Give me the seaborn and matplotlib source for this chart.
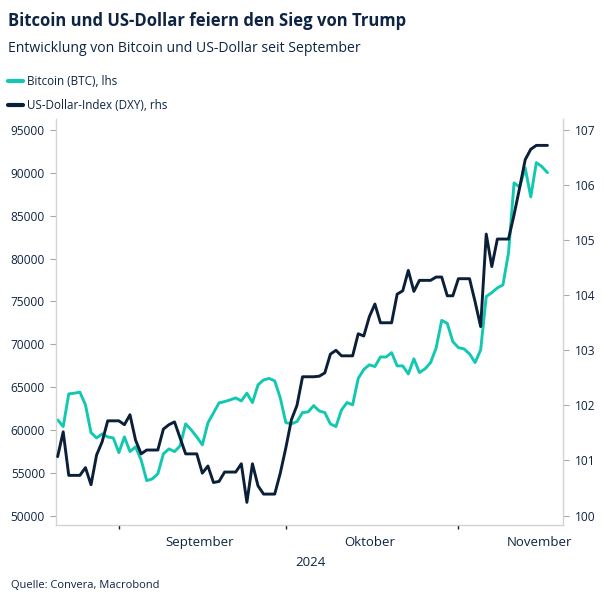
import matplotlib
matplotlib.use("Agg")
import matplotlib.pyplot as plt
import seaborn as sns
import pandas as pd
from matplotlib.lines import Line2D

# ---------------- data ----------------
start_date = "2024-08-21"
end_date = "2024-11-17"

btc = [61170, 60390, 64200, 64280, 64400, 62920, 59680, 59060, 59530, 59180, 59060,
       57350, 59180, 57470, 58020, 56500, 54080, 54280, 54870, 57200, 57780,
       57470, 58130, 60700, 60000, 59180, 58250, 60820, 61980, 63150, 63300,
       63500, 63730, 63380, 64280, 63190, 65250, 65830, 66000, 65720, 63730,
       60850, 60700, 60970, 62020, 62100, 62830, 62210, 62020, 60700, 60390,
       62330, 63190, 62920, 66000, 67050, 67590, 67390, 68520, 68500, 69010,
       67470, 67470, 66530, 68290, 66690, 67120, 67850, 69560, 72780, 72430,
       70300,
       69600, 69450, 68870, 67860, 69340, 75560, 76020, 76570, 76920, 80650,
       88820, 88350, 90570, 87190, 91190, 90720, 90020]

dxy = [101.07, 101.52, 100.73, 100.73, 100.73, 100.87, 100.56, 101.10, 101.34, 101.72, 101.72,
       101.72, 101.65, 101.83, 101.37, 101.12, 101.19, 101.19, 101.19, 101.57, 101.65,
       101.70, 101.41, 101.12, 101.12, 101.12, 100.77, 100.90, 100.60, 100.62, 100.79,
       100.79, 100.79, 100.94, 100.24, 100.94, 100.54, 100.39, 100.39, 100.39, 100.77,
       101.23, 101.74, 102.00, 102.52, 102.52, 102.52, 102.53, 102.59, 102.93, 103.00,
       102.90, 102.90, 102.90, 103.30, 103.26, 103.61, 103.84, 103.50, 103.50, 103.50,
       104.02, 104.08, 104.45, 104.07, 104.27, 104.27, 104.27, 104.33, 104.33, 103.99,
       103.99,
       104.30, 104.30, 104.30, 103.88, 103.43, 105.11, 104.52, 105.02, 105.02, 105.02,
       105.46, 105.95, 106.46, 106.65, 106.72, 106.72, 106.72]

left_ticks = [50000, 55000, 60000, 65000, 70000, 75000, 80000, 85000, 90000, 95000]
left_labels = ["50000", "55000", "60000", "65000", "70000", "75000", "80000", "85000", "90000", "95000"]
right_ticks = [100, 101, 102, 103, 104, 105, 106, 107]
right_labels = ["100", "101", "102", "103", "104", "105", "106", "107"]
month_starts = ["2024-09-01 00:00", "2024-10-01 00:00", "2024-11-01 00:00"]
month_mids = ["2024-09-15 12:00", "2024-10-16 00:00", "2024-11-15 12:00"]
month_labels = ["September", "Oktober", "November"]
series_labels = ["Bitcoin (BTC), lhs", "US-Dollar-Index (DXY), rhs"]

title = "Bitcoin und US-Dollar feiern den Sieg von Trump"
subtitle = "Entwicklung von Bitcoin und US-Dollar seit September"
source = "Quelle: Convera, Macrobond"
year_label = "2024"

df = pd.DataFrame({"Datum": pd.date_range(start_date, end_date, freq="D"),
                   "BTC": btc, "DXY": dxy})

# ---------------- style ----------------
TEAL = "#12C8B0"
NAVY = "#0B1F38"
TEXT = "#0E2442"
GRID = "#D3D3D3"

sns.set_theme(style="ticks")
plt.rcParams["font.family"] = ["Open Sans", "DejaVu Sans"]

W = H = 604
fig = plt.figure(figsize=(6.04, 6.04), dpi=100)
fig.patch.set_facecolor("white")
L, R, B, T = 56, 563, 525, 119
ax = fig.add_axes([L / W, 1 - B / H, (R - L) / W, (B - T) / H])
ax2 = ax.twinx()

sns.lineplot(data=df, x="Datum", y="BTC", ax=ax, color=TEAL, linewidth=2.1, legend=False)
sns.lineplot(data=df, x="Datum", y="DXY", ax=ax2, color=NAVY, linewidth=2.1, legend=False)

# axis limits (right axis aligned: 100<->50000, 107<->95000)
lo, hi = 48900, 96280
ax.set_ylim(lo, hi)
ax2.set_ylim(100 + (lo - 50000) * 7 / 45000, 100 + (hi - 50000) * 7 / 45000)
ax.set_xlim(pd.Timestamp("2024-08-20 17:00"), pd.Timestamp("2024-11-19 19:00"))

ax.set_yticks(left_ticks, left_labels)
ax2.set_yticks(right_ticks, right_labels)
ax.set_xticks(pd.to_datetime(month_mids), month_labels)
ax.set_xticks(pd.to_datetime(month_starts), minor=True)

for a in (ax, ax2):
    a.set_xlabel("")
    a.set_ylabel("")
    a.spines["top"].set_visible(False)
    a.set_facecolor("none")
ax.spines["right"].set_visible(False)
ax2.spines["left"].set_visible(False)
ax2.spines["bottom"].set_visible(False)
ax.spines["left"].set_color(GRID)
ax.spines["bottom"].set_color(GRID)
ax2.spines["right"].set_color(GRID)
for s in ("left", "bottom"):
    ax.spines[s].set_linewidth(1.0)
ax2.spines["right"].set_linewidth(1.0)

ax.tick_params(axis="y", left=True, right=False, length=4.5, width=0.8, color="#A8A8A8",
               labelcolor=TEXT, labelsize=8.6, pad=3.5)
ax2.tick_params(axis="y", right=True, left=False, length=4.5, width=0.8, color="#A8A8A8",
                labelcolor=TEXT, labelsize=8.6, pad=4)
ax.tick_params(axis="x", which="major", length=0, labelcolor=TEXT, labelsize=9.5, pad=8)
ax.tick_params(axis="x", which="minor", length=3, width=1.0, color=NAVY)

# ---------------- texts ----------------
fig.text(8 / W, 1 - 21 / H, title, fontsize=12, fontweight="bold", color=TEXT,
         ha="left", va="center")
fig.text(8 / W, 1 - 48 / H, subtitle, fontsize=10.1, color=TEXT, ha="left", va="center")
fig.text(310 / W, 1 - 562 / H, year_label, fontsize=9.5, color=TEXT, ha="center", va="center")
fig.text(11 / W, 1 - 585 / H, source, fontsize=8, color=TEXT, ha="left", va="center")

handles = [Line2D([], [], color=TEAL, linewidth=3), Line2D([], [], color=NAVY, linewidth=3)]
fig.legend(handles, series_labels, loc="upper left", bbox_to_anchor=(0 / W, 1 - 67 / H),
           frameon=False, fontsize=8.4, labelcolor=TEXT, handlelength=1.3,
           handletextpad=0.35, labelspacing=0.9, borderaxespad=0.3)

fig.savefig("out.png", dpi=100, facecolor="white")
